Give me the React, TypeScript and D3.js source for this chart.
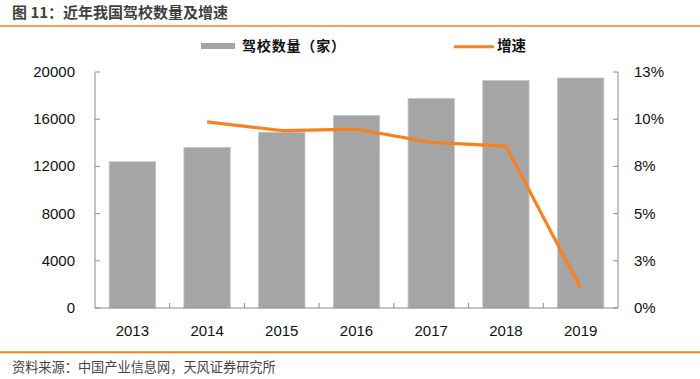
import React from "react";
import * as d3 from "d3";

const years = ["2013", "2014", "2015", "2016", "2017", "2018", "2019"];
const schoolCounts = [12390, 13610, 14900, 16310, 17750, 19270, 19490];
const growthYears = ["2014", "2015", "2016", "2017", "2018", "2019"];
const growthRates = [9.86, 9.4, 9.47, 8.77, 8.57, 1.06];
const leftTicks = [0, 4000, 8000, 12000, 16000, 20000];
const rightTicks = [0, 2.5, 5, 7.5, 10, 12.5];

const W = 700;
const H = 379;
const L = 95;
const R = 618;
const TOP = 72;
const BOT = 308;
const ORANGE = "#F5821F";
const AXIS = "#8c8c8c";
const NUM_FONT = "'Liberation Sans', Arial, sans-serif";
const CJK_FONT = "'Noto Sans CJK SC', 'Liberation Sans', sans-serif";

export default function App() {
  const x = d3.scaleBand<string>().domain(years).range([L, R]).paddingInner(0.38).paddingOuter(0.19);
  const yL = d3.scaleLinear().domain([0, 20000]).range([BOT, TOP]);
  const yR = d3.scaleLinear().domain([0, 12.5]).range([BOT, TOP]);
  const step = x.step();
  const line = d3
    .line<number>()
    .x((_, i) => (x(growthYears[i]) as number) + x.bandwidth() / 2)
    .y((d) => yR(d));

  const boundaries = years.slice(1).map((_, i) => L + step * (i + 1));

  return (
    <svg width={W} height={H} style={{ position: "absolute", left: 0, top: 0, background: "#fff" }}>
      <rect x={0} y={0} width={W} height={H} fill="#fff" />
      {/* title */}
      <text x={12} y={17.5} fontFamily={CJK_FONT} fontSize={15} fontWeight="bold" fill="#3f3f3f">
        图 11：近年我国驾校数量及增速
      </text>
      <line x1={0} x2={W} y1={26} y2={26} stroke={ORANGE} strokeWidth={1.6} />
      {/* legend */}
      <rect x={201} y={43} width={34} height={6} fill="#a5a5a5" />
      <text
        x={242}
        y={51}
        fontFamily={CJK_FONT}
        fontSize={14}
        fontWeight="bold"
        fill="#111"
        textLength={103}
        lengthAdjust="spacing"
      >
        驾校数量（家）
      </text>
      <line x1={454} x2={494} y1={46.7} y2={46.7} stroke={ORANGE} strokeWidth={3} />
      <text x={497} y={51} fontFamily={CJK_FONT} fontSize={14.5} fontWeight="bold" fill="#111">
        增速
      </text>
      {/* bars */}
      {years.map((yr, i) => (
        <rect
          key={yr}
          x={x(yr)}
          y={yL(schoolCounts[i])}
          width={x.bandwidth()}
          height={BOT - yL(schoolCounts[i])}
          fill="#a5a5a5"
          stroke="#c4c4c4"
          strokeWidth={0.8}
        />
      ))}
      {/* axes */}
      <line x1={L} x2={L} y1={TOP} y2={BOT} stroke={AXIS} strokeWidth={1} />
      <line x1={R} x2={R} y1={TOP} y2={BOT} stroke={AXIS} strokeWidth={1} />
      <line x1={L} x2={R} y1={BOT} y2={BOT} stroke={AXIS} strokeWidth={1} />
      {leftTicks.map((t) => (
        <g key={"l" + t}>
          <line x1={L} x2={L + 5} y1={yL(t)} y2={yL(t)} stroke={AXIS} />
          <text x={75} y={yL(t) + 5} textAnchor="end" fontFamily={NUM_FONT} fontSize={15} fill="#111">
            {t}
          </text>
        </g>
      ))}
      {rightTicks.map((t) => (
        <g key={"r" + t}>
          <line x1={R - 5} x2={R} y1={yR(t)} y2={yR(t)} stroke={AXIS} />
          <text x={634} y={yR(t) + 5} textAnchor="start" fontFamily={NUM_FONT} fontSize={15} fill="#111">
            {Math.round(t) + "%"}
          </text>
        </g>
      ))}
      {boundaries.map((bx) => (
        <line key={bx} x1={bx} x2={bx} y1={BOT} y2={BOT - 5} stroke={AXIS} />
      ))}
      {years.map((yr) => (
        <text
          key={"x" + yr}
          x={(x(yr) as number) + x.bandwidth() / 2}
          y={336}
          textAnchor="middle"
          fontFamily={NUM_FONT}
          fontSize={15}
          fill="#111"
        >
          {yr}
        </text>
      ))}
      {/* growth line */}
      <path d={line(growthRates) || ""} fill="none" stroke={ORANGE} strokeWidth={3.2} strokeLinejoin="round" />
      {/* footer */}
      <line x1={0} x2={W} y1={352.3} y2={352.3} stroke={ORANGE} strokeWidth={2} />
      <text x={12} y={372} fontFamily={CJK_FONT} fontSize={13.2} fill="#444">
        资料来源：中国产业信息网，天风证券研究所
      </text>
    </svg>
  );
}
